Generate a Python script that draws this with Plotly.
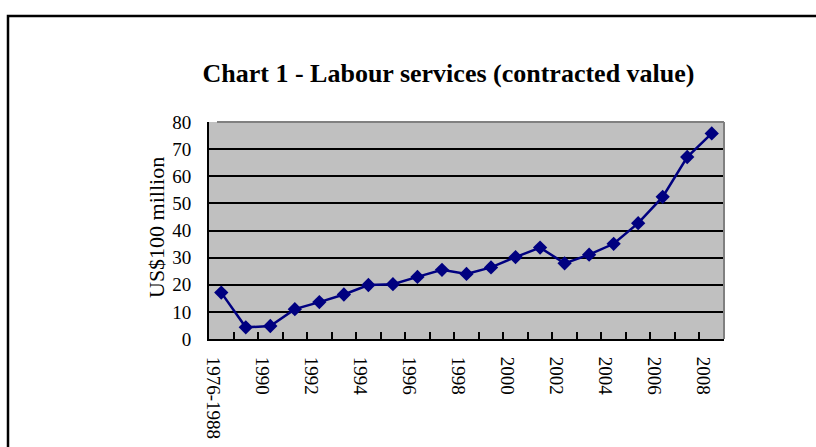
import plotly.graph_objects as go

categories = ["1976-1988", "1989", "1990", "1991", "1992", "1993", "1994", "1995",
              "1996", "1997", "1998", "1999", "2000", "2001", "2002", "2003",
              "2004", "2005", "2006", "2007", "2008"]
values = [17.1, 4.3, 4.8, 11.0, 13.6, 16.4, 19.9, 20.2, 22.9, 25.5, 24.0, 26.4,
          30.2, 33.7, 27.9, 31.1, 35.1, 42.7, 52.4, 67.1, 75.8]
title_text = "Chart 1 - Labour services (contracted value)"
y_title = "US$100 million"

idx = list(range(len(categories)))
label_idx = idx[::2]
label_text = [categories[i] for i in label_idx]
label_shift = -0.33  # labels sit slightly left of their category centre

W, H = 816, 447
L, R, T, B = 209, 724, 122, 339
pw, ph = R - L, B - T

def px_x(x):
    return (x - L) / pw

def px_y(y):
    return (B - y) / ph

font_family = "Liberation Serif"

fig = go.Figure()
fig.add_trace(go.Scatter(
    x=idx, y=values, mode="lines+markers",
    line=dict(color="#000080", width=2.5),
    marker=dict(symbol="diamond", size=11, color="#000080"),
    showlegend=False, cliponaxis=False,
))

fig.update_layout(
    width=W, height=H,
    margin=dict(l=L, r=W - R, t=T, b=H - B, autoexpand=False),
    paper_bgcolor="white",
    plot_bgcolor="#C0C0C0",
    font=dict(family=font_family, size=19, color="black"),
    title=dict(text="<b>" + title_text + "</b>", x=448.5 / W, xanchor="center",
               y=1 - 73 / H, yanchor="middle", yref="container",
               font=dict(family=font_family, size=26, color="black")),
    xaxis=dict(
        range=[-0.5, len(categories) - 0.5],
        tickmode="array", tickvals=[i + label_shift for i in label_idx],
        ticktext=label_text,
        tickangle=90, ticks="", showgrid=False, zeroline=False,
        showline=True, linecolor="black", linewidth=2,
        tickfont=dict(family=font_family, size=19, color="black"),
        minor=dict(tickmode="array",
                   tickvals=[i + 0.5 for i in idx[:-1]],
                   ticks="inside", ticklen=7, tickwidth=1.5, tickcolor="black",
                   showgrid=False),
        ticklabelstandoff=12,
        automargin=False, fixedrange=True,
    ),
    yaxis=dict(
        range=[0, 80], dtick=10, tick0=0,
        ticks="inside", ticklen=7, tickwidth=1.5, tickcolor="black",
        showgrid=True, gridcolor="black", gridwidth=1.5,
        zeroline=False, showline=True, linecolor="black", linewidth=2,
        tickfont=dict(family=font_family, size=19, color="black"),
        ticklabelstandoff=12,
        automargin=False, fixedrange=True,
    ),
    shapes=[
        dict(type="line", xref="paper", yref="paper",
             x0=px_x(L + 8), x1=1, y0=1, y1=1,
             line=dict(color="#808080", width=2), layer="above"),
        dict(type="line", xref="paper", yref="paper",
             x0=1, x1=1, y0=0, y1=1,
             line=dict(color="#808080", width=2), layer="above"),
        dict(type="rect", xref="paper", yref="paper",
             x0=px_x(8), x1=px_x(830), y0=px_y(460), y1=px_y(16),
             line=dict(color="black", width=2.5), layer="above"),
    ],
    annotations=[
        dict(text=y_title, xref="paper", yref="paper", x=px_x(156), y=px_y(228),
             xanchor="center", yanchor="middle", textangle=-90, showarrow=False,
             font=dict(family=font_family, size=22, color="black")),
    ],
)

fig.write_html(
    "out.html",
    config={"displayModeBar": False},
    post_script="document.body.style.margin='0';document.body.style.overflow='hidden';",
)
